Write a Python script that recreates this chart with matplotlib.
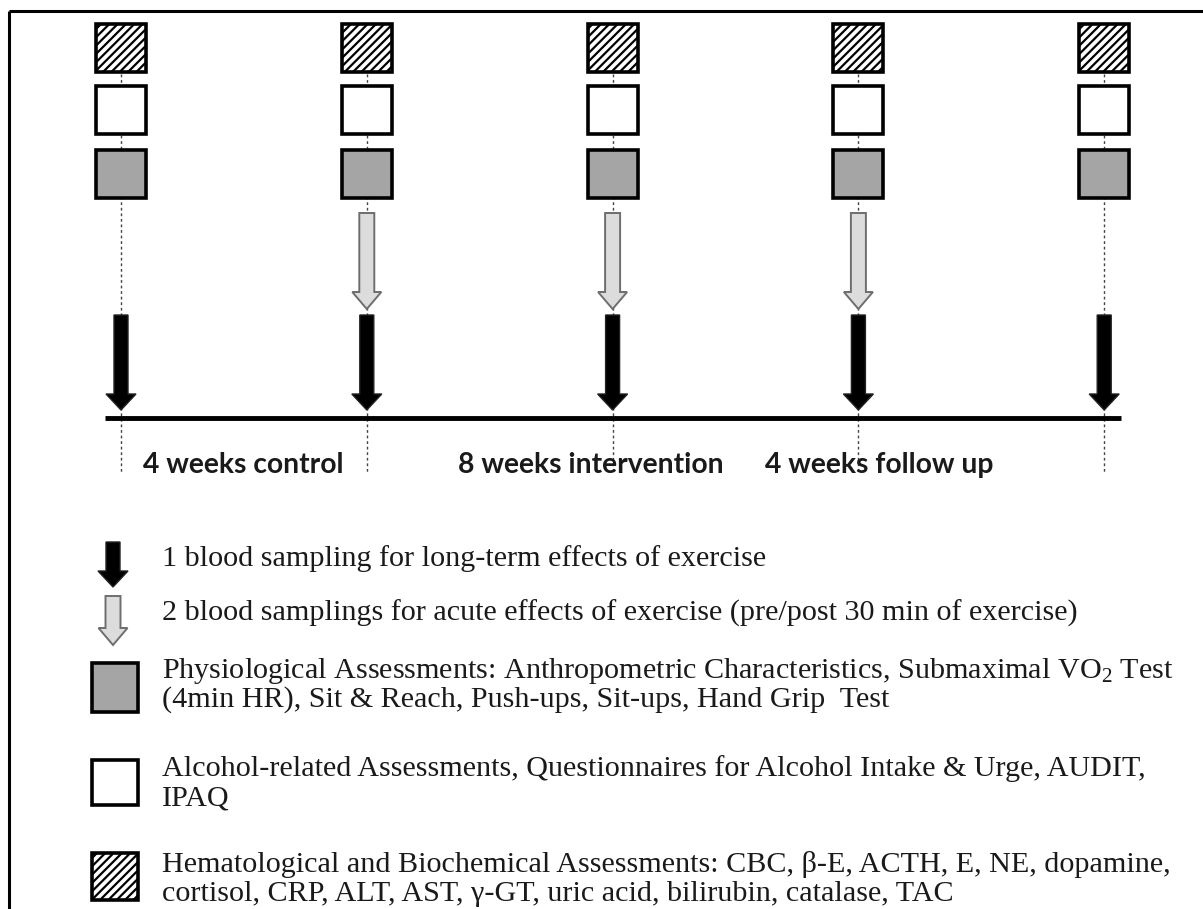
"""
Study timeline diagram: assessments and blood samplings across control,
intervention and follow-up periods.
"""
import matplotlib.pyplot as plt
from matplotlib.patches import Rectangle, FancyArrow

plt.rcParams['mathtext.fontset'] = 'custom'
plt.rcParams['mathtext.rm'] = 'Liberation Serif'
plt.rcParams['mathtext.it'] = 'Liberation Serif:italic'
plt.rcParams['hatch.linewidth'] = 1.6

# time points (weeks) and what happens at each
weeks = [0, 4, 8, 12, 16]
acute_sampling = [False, True, True, True, False]
periods = ["4 weeks control", "8 weeks intervention", "4 weeks follow up"]
period_left = [143, 458, 765]

legend_lines = [
    ["1 blood sampling for long-term effects of exercise"],
    ["2 blood samplings for acute effects of exercise (pre/post 30 min of exercise)"],
    ["Physiological Assessments: Anthropometric Characteristics, Submaximal VO$_\\mathrm{2}$ Test",
     "(4min HR), Sit & Reach, Push-ups, Sit-ups, Hand Grip  Test"],
    ["Alcohol-related Assessments, Questionnaires for Alcohol Intake & Urge, AUDIT,",
     "IPAQ"],
    ["Hematological and Biochemical Assessments: CBC, \u03b2-E, ACTH, E, NE, dopamine,",
     "cortisol, CRP, ALT, AST, \u03b3-GT, uric acid, bilirubin, catalase, TAC"],
]
legend_base = [566, 621, 678, 776, 872]

W, H = 1203, 909
fig = plt.figure(figsize=(W / 100, H / 100), dpi=100)
ax = fig.add_axes([0, 0, 1, 1])
ax.set_xlim(0, W)
ax.set_ylim(H, 0)
ax.axis("off")

# frame (top and left only visible)
ax.plot([9, W + 5], [11, 11], color="black", lw=2.2, solid_capstyle="butt")
ax.plot([9, 9], [11, H + 5], color="black", lw=2.2, solid_capstyle="butt")

x0, dx = 121, 245.8 / 4
xs = [x0 + w * dx for w in weeks]

GRAY = "#a5a5a5"
LIGHT = "#dcdcdc"


def box(x, y, kind, size=(50, 48)):
    w, h = size
    fc = GRAY if kind == "gray" else "white"
    ax.add_patch(Rectangle((x - w / 2, y), w, h, facecolor=fc, edgecolor="black",
                           lw=2.6, hatch="////" if kind == "hatch" else None, zorder=3))


def black_arrow(x, y0, y1):
    ax.add_patch(FancyArrow(x, y0, 0, y1 - y0, width=14, head_width=30,
                            head_length=16, length_includes_head=True,
                            facecolor="black", edgecolor="#222222", lw=1, zorder=4))


def gray_arrow(x, y0, y1):
    ax.add_patch(FancyArrow(x, y0, 0, y1 - y0, width=15, head_width=29,
                            head_length=17, length_includes_head=True,
                            facecolor=LIGHT, edgecolor="#6e6e6e", lw=1.4, zorder=4))


for x, acute in zip(xs, acute_sampling):
    ax.plot([x, x], [24, 472], color="#444444", lw=1.0, ls=(0, (2, 2)), zorder=1)
    box(x, 24, "hatch")
    box(x, 86, "white")
    box(x, 150, "gray")
    if acute:
        gray_arrow(x, 213, 309)
    black_arrow(x, 315, 410)

# timeline
ax.plot([105, 1121], [418, 418], color="black", lw=3.5, solid_capstyle="butt", zorder=5)

for label, xl in zip(periods, period_left):
    ax.text(xl, 473, label, fontsize=20.3, fontweight="bold", family="Lato",
            ha="left", va="baseline", color="#1a1a1a")

# legend icons
black_arrow(113, 542, 587)
gray_arrow(113, 596, 645)
ax.add_patch(Rectangle((92, 663), 46, 49, facecolor=GRAY, edgecolor="black", lw=2.6))
ax.add_patch(Rectangle((92, 760), 46, 45, facecolor="white", edgecolor="black", lw=2.6))
ax.add_patch(Rectangle((92, 853), 46, 47, facecolor="white", edgecolor="black",
                       lw=2.6, hatch="////"))

for lines, yb in zip(legend_lines, legend_base):
    for i, line in enumerate(lines):
        ax.text(162, yb + i * 29, line, fontsize=21.7, family="Liberation Serif",
                ha="left", va="baseline", color="#1a1a1a")

fig.savefig("out.png", dpi=100)
